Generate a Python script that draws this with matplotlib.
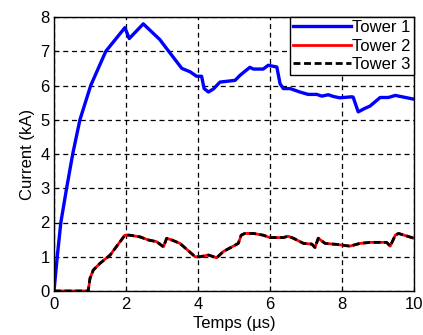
import numpy as np
import matplotlib
matplotlib.use("Agg")
import matplotlib.pyplot as plt

plt.rcParams["font.family"] = ["Liberation Sans", "DejaVu Sans"]

# Tower 1 current (kA) vs time (us)
T1_T = [0, 0.09, 0.19, 0.35, 0.52, 0.72, 1.02, 1.44, 1.97, 2.09, 2.48, 2.94, 3.04,
        3.55, 3.78, 3.96, 4.1, 4.17, 4.29, 4.43, 4.61, 5.03, 5.17, 5.44, 5.54, 5.81,
        5.95, 6.19, 6.28, 6.37, 6.56, 6.83, 7.06, 7.3, 7.44, 7.62, 7.76, 7.94, 8.27,
        8.31, 8.45, 8.63, 8.78, 9.06, 9.29, 9.48, 9.67, 10.0]
T1_I = [0, 1.0, 2.0, 3.0, 4.0, 5.0, 6.0, 7.0, 7.69, 7.37, 7.8, 7.34, 7.2,
        6.5, 6.4, 6.27, 6.27, 5.91, 5.81, 5.9, 6.1, 6.15, 6.3, 6.53, 6.48, 6.48,
        6.59, 6.54, 6.05, 5.91, 5.91, 5.81, 5.74, 5.74, 5.69, 5.73, 5.68, 5.64, 5.67,
        5.66, 5.23, 5.33, 5.4, 5.65, 5.65, 5.71, 5.67, 5.6]

# Tower 2 and Tower 3 (identical traces)
T2_T = [0, 0.95, 1.0, 1.09, 1.28, 1.56, 1.97, 2.1, 2.39, 2.62, 2.85, 3.04, 3.13,
        3.27, 3.5, 3.92, 4.06, 4.29, 4.52, 4.7, 5.12, 5.2, 5.3, 5.54, 5.81, 6.0,
        6.37, 6.5, 6.65, 6.93, 7.16, 7.25, 7.34, 7.53, 7.85, 8.22, 8.5, 8.78, 9.24,
        9.34, 9.48, 9.57, 10.0]
T2_I = [0, 0, 0.37, 0.61, 0.81, 1.05, 1.63, 1.63, 1.58, 1.49, 1.44, 1.29, 1.54,
        1.49, 1.39, 1.0, 1.0, 1.05, 0.97, 1.15, 1.39, 1.63, 1.68, 1.68, 1.63, 1.56,
        1.56, 1.6, 1.54, 1.39, 1.37, 1.27, 1.54, 1.39, 1.36, 1.31, 1.39, 1.42, 1.42,
        1.31, 1.63, 1.68, 1.54]

fig = plt.figure(figsize=(4.23, 3.35), dpi=100)
ax = fig.add_axes([54 / 423, 1 - 291 / 335, 360 / 423, 274 / 335])

ax.plot(T1_T, T1_I, color="#0000ff", lw=2.4, label="Tower 1")
ax.plot(T2_T, T2_I, color="#ff0000", lw=2.0, label="Tower 2")
ax.plot(T2_T, T2_I, color="black", lw=2.0, ls=(0, (2.5, 1.3)), label="Tower 3")

ax.set_xlim(0, 10)
ax.set_ylim(0, 8)
ax.set_xticks(np.arange(0, 11, 2))
ax.set_yticks(np.arange(0, 9, 1))
ax.grid(True, color="black", ls=(0, (4, 3)), lw=0.9)
ax.tick_params(direction="in", length=3, labelsize=12)
ax.tick_params(axis="x", pad=4)
ax.tick_params(axis="y", pad=3)
for s in ax.spines.values():
    s.set_linewidth(1.0)
ax.set_xlabel("Temps (µs)", fontsize=12, labelpad=3)
ax.set_ylabel("Current (kA)", fontsize=12, labelpad=4)

leg = ax.legend(loc="upper right", fontsize=12, handlelength=3.5, handletextpad=0.05,
                borderpad=0.2, labelspacing=0.2, borderaxespad=0, fancybox=False,
                framealpha=1, edgecolor="black")
leg.get_frame().set_linewidth(1.0)

fig.savefig("out.png", dpi=100)
